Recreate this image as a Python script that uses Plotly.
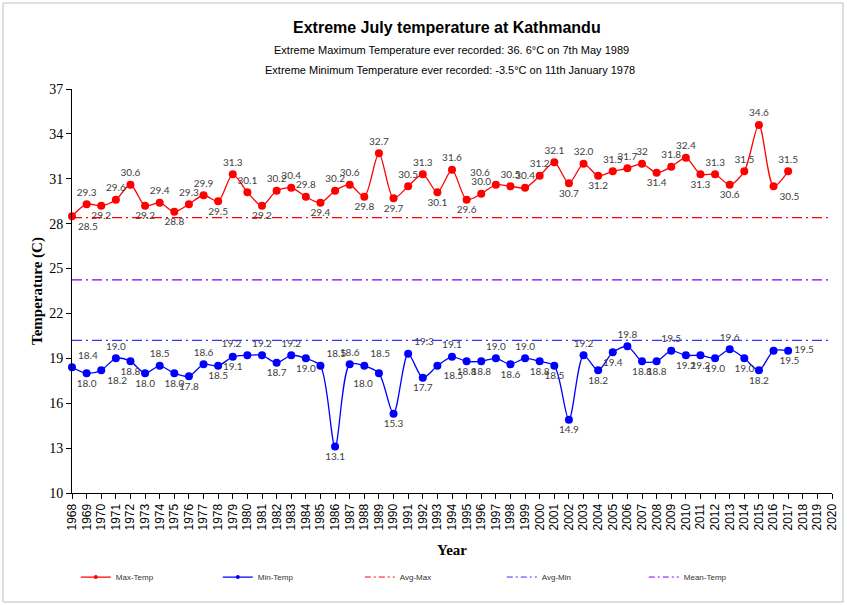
import plotly.graph_objects as go

years = list(range(1968, 2018))
max_temp = [28.5, 29.3, 29.2, 29.6, 30.6, 29.2, 29.4, 28.8, 29.3, 29.9,
            29.5, 31.3, 30.1, 29.2, 30.2, 30.4, 29.8, 29.4, 30.2, 30.6,
            29.8, 32.7, 29.7, 30.5, 31.3, 30.1, 31.6, 29.6, 30.0, 30.6,
            30.5, 30.4, 31.2, 32.1, 30.7, 32.0, 31.2, 31.5, 31.7, 32.0,
            31.4, 31.8, 32.4, 31.3, 31.3, 30.6, 31.5, 34.6, 30.5, 31.5]
max_labels = ["28.5", "29.3", "29.2", "29.6", "30.6", "29.2", "29.4", "28.8", "29.3", "29.9",
              "29.5", "31.3", "30.1", "29.2", "30.2", "30.4", "29.8", "29.4", "30.2", "30.6",
              "29.8", "32.7", "29.7", "30.5", "31.3", "30.1", "31.6", "29.6", "30.0", "30.6",
              "30.5", "30.4", "31.2", "32.1", "30.7", "32.0", "31.2", "31.5", "31.7", "32",
              "31.4", "31.8", "32.4", "31.3", "31.3", "30.6", "31.5", "34.6", "30.5", "31.5"]
min_temp = [18.4, 18.0, 18.2, 19.0, 18.8, 18.0, 18.5, 18.0, 17.8, 18.6,
            18.5, 19.1, 19.2, 19.2, 18.7, 19.2, 19.0, 18.5, 13.1, 18.6,
            18.5, 18.0, 15.3, 19.3, 17.7, 18.5, 19.1, 18.8, 18.8, 19.0,
            18.6, 19.0, 18.8, 18.5, 14.9, 19.2, 18.2, 19.4, 19.8, 18.8,
            18.8, 19.5, 19.2, 19.2, 19.0, 19.6, 19.0, 18.2, 19.5, 19.5]
min_labels = [f"{v:.1f}" for v in min_temp]

avg_years = [1968, 2020]
avg_max = 28.4
avg_min = 20.2
mean_temp = 24.25

x_ticks = list(range(1968, 2021))

T, B = "top center", "bottom center"
BL, BR, TL, TR = "bottom left", "bottom right", "top left", "top right"
max_pos = [ BR, T, B, T, T, B, T, B, T, T,
            B, T, T, B, T, T, T, B, T, T,
            B, T, B, T, T, B, T, B, T, TL,
            T, T, T, T, B, T, B, T, T, T,
            B, T, T, B, T, B, T, T, BR, T]
min_pos = [ TR, B, BR, T, B, B, T, B, B, T,
            B, B, TL, T, B, T, B, TR, B, T,
            TR, BL, B, TR, B, BR, T, B, B, T,
            B, T, B, B, B, T, B, B, T, B,
            B, T, B, B, B, T, B, B, BR, "middle right"]

label_font = dict(family="Lato, Liberation Sans, sans-serif", size=10, color="#404040")
dash = "10px,4px,2px,4px"

fig = go.Figure()
fig.add_trace(go.Scatter(
    x=years, y=max_temp, name="Max-Temp", mode="lines+markers+text", showlegend=False,
    line=dict(color="#ff0000", width=1.3, shape="spline", smoothing=0.8),
    marker=dict(color="#ff0000", size=8),
    text=max_labels, textposition=max_pos, textfont=label_font, cliponaxis=False))
fig.add_trace(go.Scatter(
    x=years, y=min_temp, name="Min-Temp", mode="lines+markers+text", showlegend=False,
    line=dict(color="#0000ff", width=1.3, shape="spline", smoothing=0.8),
    marker=dict(color="#0000ff", size=8),
    text=min_labels, textposition=min_pos, textfont=label_font, cliponaxis=False))
fig.add_trace(go.Scatter(x=avg_years, y=[avg_max, avg_max], name="Avg-Max", mode="lines", showlegend=False,
                         line=dict(color="#ff0000", width=1.2, dash=dash)))
fig.add_trace(go.Scatter(x=avg_years, y=[avg_min, avg_min], name="Avg-Min", mode="lines", showlegend=False,
                         line=dict(color="#3333ff", width=1.2, dash=dash)))
fig.add_trace(go.Scatter(x=avg_years, y=[mean_temp, mean_temp], name="Mean-Temp", mode="lines", showlegend=False,
                         line=dict(color="#7f00ff", width=1.2, dash=dash)))

# legend entries (small symbols as in the reference)
fig.add_trace(go.Scatter(x=[None], y=[None], name="Max-Temp", mode="lines+markers",
                         line=dict(color="#ff0000", width=1.3), marker=dict(color="#ff0000", size=4)))
fig.add_trace(go.Scatter(x=[None], y=[None], name="Min-Temp", mode="lines+markers",
                         line=dict(color="#0000ff", width=1.3), marker=dict(color="#0000ff", size=4)))
fig.add_trace(go.Scatter(x=[None], y=[None], name="Avg-Max", mode="lines",
                         line=dict(color="#ff0000", width=1, dash="6px,3px,2px,3px")))
fig.add_trace(go.Scatter(x=[None], y=[None], name="Avg-Min", mode="lines",
                         line=dict(color="#3333ff", width=1, dash="6px,3px,2px,3px")))
fig.add_trace(go.Scatter(x=[None], y=[None], name="Mean-Temp", mode="lines",
                         line=dict(color="#7f00ff", width=1, dash="6px,3px,2px,3px")))

fig.update_layout(
    width=847, height=605,
    margin=dict(l=72, r=15, t=89, b=112, autoexpand=False),
    paper_bgcolor="white", plot_bgcolor="white",
    showlegend=True,
    legend=dict(orientation="h", x=0.005, xanchor="left", y=-0.208, yanchor="middle",
                font=dict(family="Liberation Sans, Arial, sans-serif", size=8, color="#333"),
                entrywidth=97, entrywidthmode="pixels", itemwidth=30,
                bgcolor="rgba(0,0,0,0)"),
    xaxis=dict(range=[1968, 2020], tickmode="array", tickvals=x_ticks, automargin=False,
               ticktext=[str(y) for y in x_ticks], tickangle=-90,
               showline=True, linecolor="black", linewidth=1,
               ticks="outside", ticklen=5, tickcolor="black", showgrid=False, zeroline=False,
               tickfont=dict(family="Liberation Sans, Arial, sans-serif", size=12, color="black"),
               title=dict(text="<b>Year</b>", standoff=14,
                          font=dict(family="Liberation Serif, Times New Roman, serif", size=15, color="black"))),
    yaxis=dict(range=[10, 37], tickvals=[10, 13, 16, 19, 22, 25, 28, 31, 34, 37], automargin=False,
               showline=True, linecolor="black", linewidth=1,
               ticks="outside", ticklen=5, tickcolor="black", showgrid=False, zeroline=False,
               tickfont=dict(family="Liberation Serif, Times New Roman, serif", size=14, color="black"),
               title=dict(text="<b>Temperature (C)</b>", standoff=2,
                          font=dict(family="Liberation Serif, Times New Roman, serif", size=15, color="black"))),
    annotations=[
        dict(text="<b>Extreme July temperature at Kathmandu</b>", xref="paper", yref="paper",
             x=(447 - 72) / 760, y=(493 - 27) / 404, showarrow=False, xanchor="center", yanchor="middle",
             font=dict(family="Liberation Sans, Arial, sans-serif", size=16, color="black")),
        dict(text="Extreme Maximum Temperature ever recorded: 36. 6°C on 7th May 1989", xref="paper", yref="paper",
             x=(451 - 72) / 760, y=(493 - 50) / 404, showarrow=False, xanchor="center", yanchor="middle",
             font=dict(family="Liberation Sans, Arial, sans-serif", size=11, color="black")),
        dict(text="Extreme Minimum Temperature ever recorded: -3.5°C on 11th January 1978", xref="paper", yref="paper",
             x=(450 - 72) / 760, y=(493 - 70) / 404, showarrow=False, xanchor="center", yanchor="middle",
             font=dict(family="Liberation Sans, Arial, sans-serif", size=11, color="black")),
    ],
    shapes=[dict(type="rect", xref="paper", yref="paper",
                 x0=(3 - 72) / 760, x1=(843 - 72) / 760, y0=(493 - 602) / 404, y1=(493 - 3) / 404,
                 line=dict(color="#bfbfbf", width=1), fillcolor="rgba(0,0,0,0)", layer="below")],
)

fig.write_html("out.html", config={"displayModeBar": False},
               post_script="document.body.style.margin='0';document.body.style.overflow='hidden';")
